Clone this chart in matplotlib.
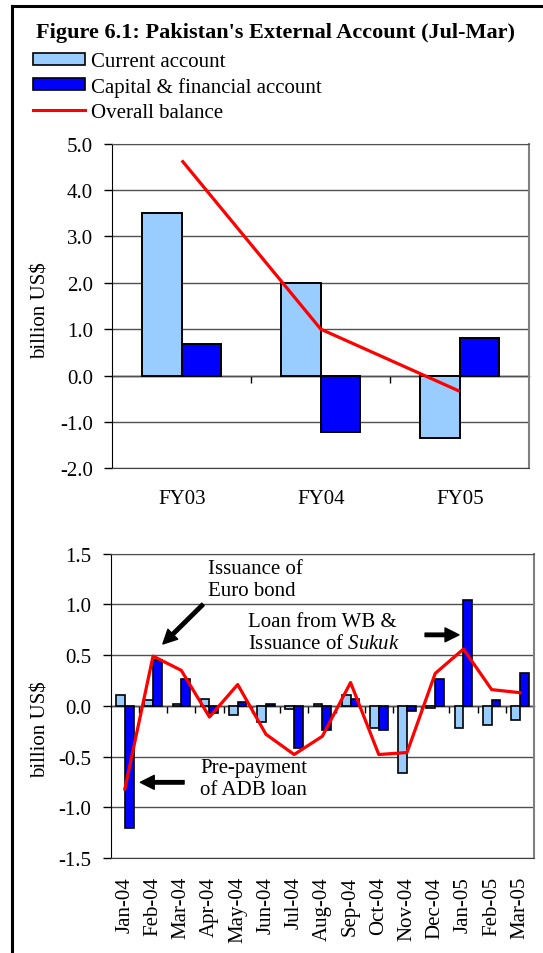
import matplotlib
matplotlib.use("Agg")
import matplotlib.pyplot as plt
import numpy as np
from matplotlib.patches import Patch
from matplotlib.lines import Line2D

plt.rcParams['font.family'] = ['Liberation Serif', 'DejaVu Serif']
plt.rcParams['axes.unicode_minus'] = False
plt.rcParams['mathtext.fontset'] = 'custom'
plt.rcParams['mathtext.rm'] = 'Liberation Serif'
plt.rcParams['mathtext.it'] = 'Liberation Serif:italic'

# Jul-Mar totals, billion US$
years = ['FY03', 'FY04', 'FY05']
ca_year = [3.50, 2.00, -1.35]
ka_year = [0.68, -1.22, 0.80]
ob_year = [4.64, 1.00, -0.34]

# monthly flows, billion US$
months = ['Jan-04', 'Feb-04', 'Mar-04', 'Apr-04', 'May-04', 'Jun-04', 'Jul-04',
          'Aug-04', 'Sep-04', 'Oct-04', 'Nov-04', 'Dec-04', 'Jan-05', 'Feb-05', 'Mar-05']
ca_month = [0.11, 0.06, 0.02, 0.07, -0.09, -0.16, -0.03, 0.02, 0.11, -0.22,
            -0.66, -0.02, -0.22, -0.19, -0.14]
ka_month = [-1.20, 0.45, 0.26, -0.07, 0.04, 0.02, -0.42, -0.24, 0.07, -0.24,
            -0.05, 0.26, 1.04, 0.06, 0.32]
ob_month = [-0.82, 0.49, 0.35, -0.11, 0.21, -0.28, -0.48, -0.30, 0.23, -0.48,
            -0.46, 0.32, 0.56, 0.16, 0.13]

light = '#99CCFF'
dark = '#0000FF'
red = '#FF0000'
grid = '#505050'
fs = 15

fig = plt.figure(figsize=(5.43, 9.54), dpi=100)

# outer frame (left and top edges)
fig.add_artist(Line2D([12 / 543, 12 / 543], [0, 1 - 7 / 954], color='black', lw=2.2,
                      transform=fig.transFigure))
fig.add_artist(Line2D([12 / 543, 1], [1 - 7 / 954, 1 - 7 / 954], color='black', lw=2.2,
                      transform=fig.transFigure))

fig.text(36 / 543, 1 - 33 / 954, "Figure 6.1: Pakistan's External Account (Jul-Mar)",
         fontsize=16, fontweight='bold', va='center', ha='left')

handles = [Patch(facecolor=light, edgecolor='black', lw=1.2),
           Patch(facecolor=dark, edgecolor='black', lw=1.2),
           Line2D([], [], color=red, lw=2.2)]
fig.legend(handles, ['Current account', 'Capital & financial account', 'Overall balance'],
           loc='upper left', bbox_to_anchor=(33 / 543, 1 - 53 / 954), frameon=False,
           fontsize=fs, borderpad=0, borderaxespad=0, handlelength=2.5,
           handleheight=0.5, handletextpad=0.3, labelspacing=0.28)


def style_axes(ax, zero_frac):
    ax.set_axisbelow(True)
    ax.yaxis.grid(True, color=grid, lw=1.0)
    ax.spines['top'].set_color(grid)
    ax.spines['right'].set_color('#808080')
    ax.spines['right'].set_linewidth(1.5)
    ax.spines['left'].set_color('black')
    ax.spines['bottom'].set_color('#404040')
    ax.tick_params(axis='y', direction='out', length=6, width=1, labelsize=fs, pad=8)
    ax.tick_params(axis='x', length=0, labelsize=fs)
    ax.yaxis.set_major_formatter(matplotlib.ticker.FormatStrFormatter('%.1f'))
    # category axis crossing at zero, with ticks between categories
    sec = ax.secondary_xaxis(zero_frac)
    sec.set_alignment('bottom')
    sec.spines['bottom'].set_color('black')
    sec.spines['bottom'].set_linewidth(1.0)
    sec.tick_params(axis='x', direction='out', length=5, width=1, labelbottom=False)
    return sec


# top panel: yearly totals
ax1 = fig.add_axes([112.3 / 543, 1 - 469.3 / 954, 417 / 543, 324.6 / 954])
x1 = np.arange(len(years))
w1 = 0.284
ax1.bar(x1 - w1 / 2, ca_year, w1, color=light, edgecolor='black', lw=1.4)
ax1.bar(x1 + w1 / 2, ka_year, w1, color=dark, edgecolor='black', lw=1.4)
ax1.plot(x1, ob_year, color=red, lw=2.3, solid_capstyle='butt')
ax1.set_xlim(-0.5, 2.5)
ax1.set_ylim(-2.0, 5.0)
ax1.set_yticks(np.arange(-2.0, 5.01, 1.0))
ax1.set_xticks(x1)
ax1.set_xticklabels(years)
sec1 = style_axes(ax1, 2 / 7)
sec1.set_xticks([0.5, 1.5])
ax1.tick_params(axis='x', pad=15)
fig.text(41 / 543, 1 - 311 / 954, 'billion US$', rotation=90, fontsize=fs,
         ha='center', va='center')

# bottom panel: monthly flows
ax2 = fig.add_axes([110.7 / 543, 1 - 859 / 954, 423.3 / 543, 304.3 / 954])
x2 = np.arange(len(months))
w2 = 0.31
ax2.bar(x2 - w2 / 2, ca_month, w2, color=light, edgecolor='black', lw=1.2)
ax2.bar(x2 + w2 / 2, ka_month, w2, color=dark, edgecolor='black', lw=1.2)
ax2.plot(x2, ob_month, color=red, lw=2.3)
ax2.set_xlim(-0.5, len(months) - 0.5)
ax2.set_ylim(-1.5, 1.5)
ax2.set_yticks(np.arange(-1.5, 1.51, 0.5))
ax2.set_xticks(x2)
ax2.set_xticklabels(months, rotation=90, va='top')
sec2 = style_axes(ax2, 0.5)
sec2.set_xticks(x2[:-1] + 0.5)
ax2.tick_params(axis='x', pad=13)
fig.text(41 / 543, 1 - 730 / 954, 'billion US$', rotation=90, fontsize=fs,
         ha='center', va='center')

arrow = dict(facecolor='black', edgecolor='black', width=2.5, headwidth=10,
             headlength=10, shrink=0)
ax2.text(2.95, 1.245, 'Issuance of\nEuro bond', fontsize=fs, va='center', ha='left',
         linespacing=1.2)
ax2.annotate('', xy=(1.35, 0.61), xytext=(2.77, 1.0), arrowprops=arrow)
ax2.text(4.37, 0.72, 'Loan from WB &\nIssuance of $\\it{Sukuk}$', fontsize=fs,
         va='center', ha='left', linespacing=1.2)
ax2.annotate('', xy=(11.84, 0.70), xytext=(10.64, 0.70), arrowprops=arrow)
ax2.text(2.66, -0.72, 'Pre-payment\nof ADB loan', fontsize=fs, va='center', ha='left',
         linespacing=1.2)
ax2.annotate('', xy=(0.55, -0.754), xytext=(2.10, -0.754), arrowprops=arrow)

fig.savefig('out.png', dpi=100)
